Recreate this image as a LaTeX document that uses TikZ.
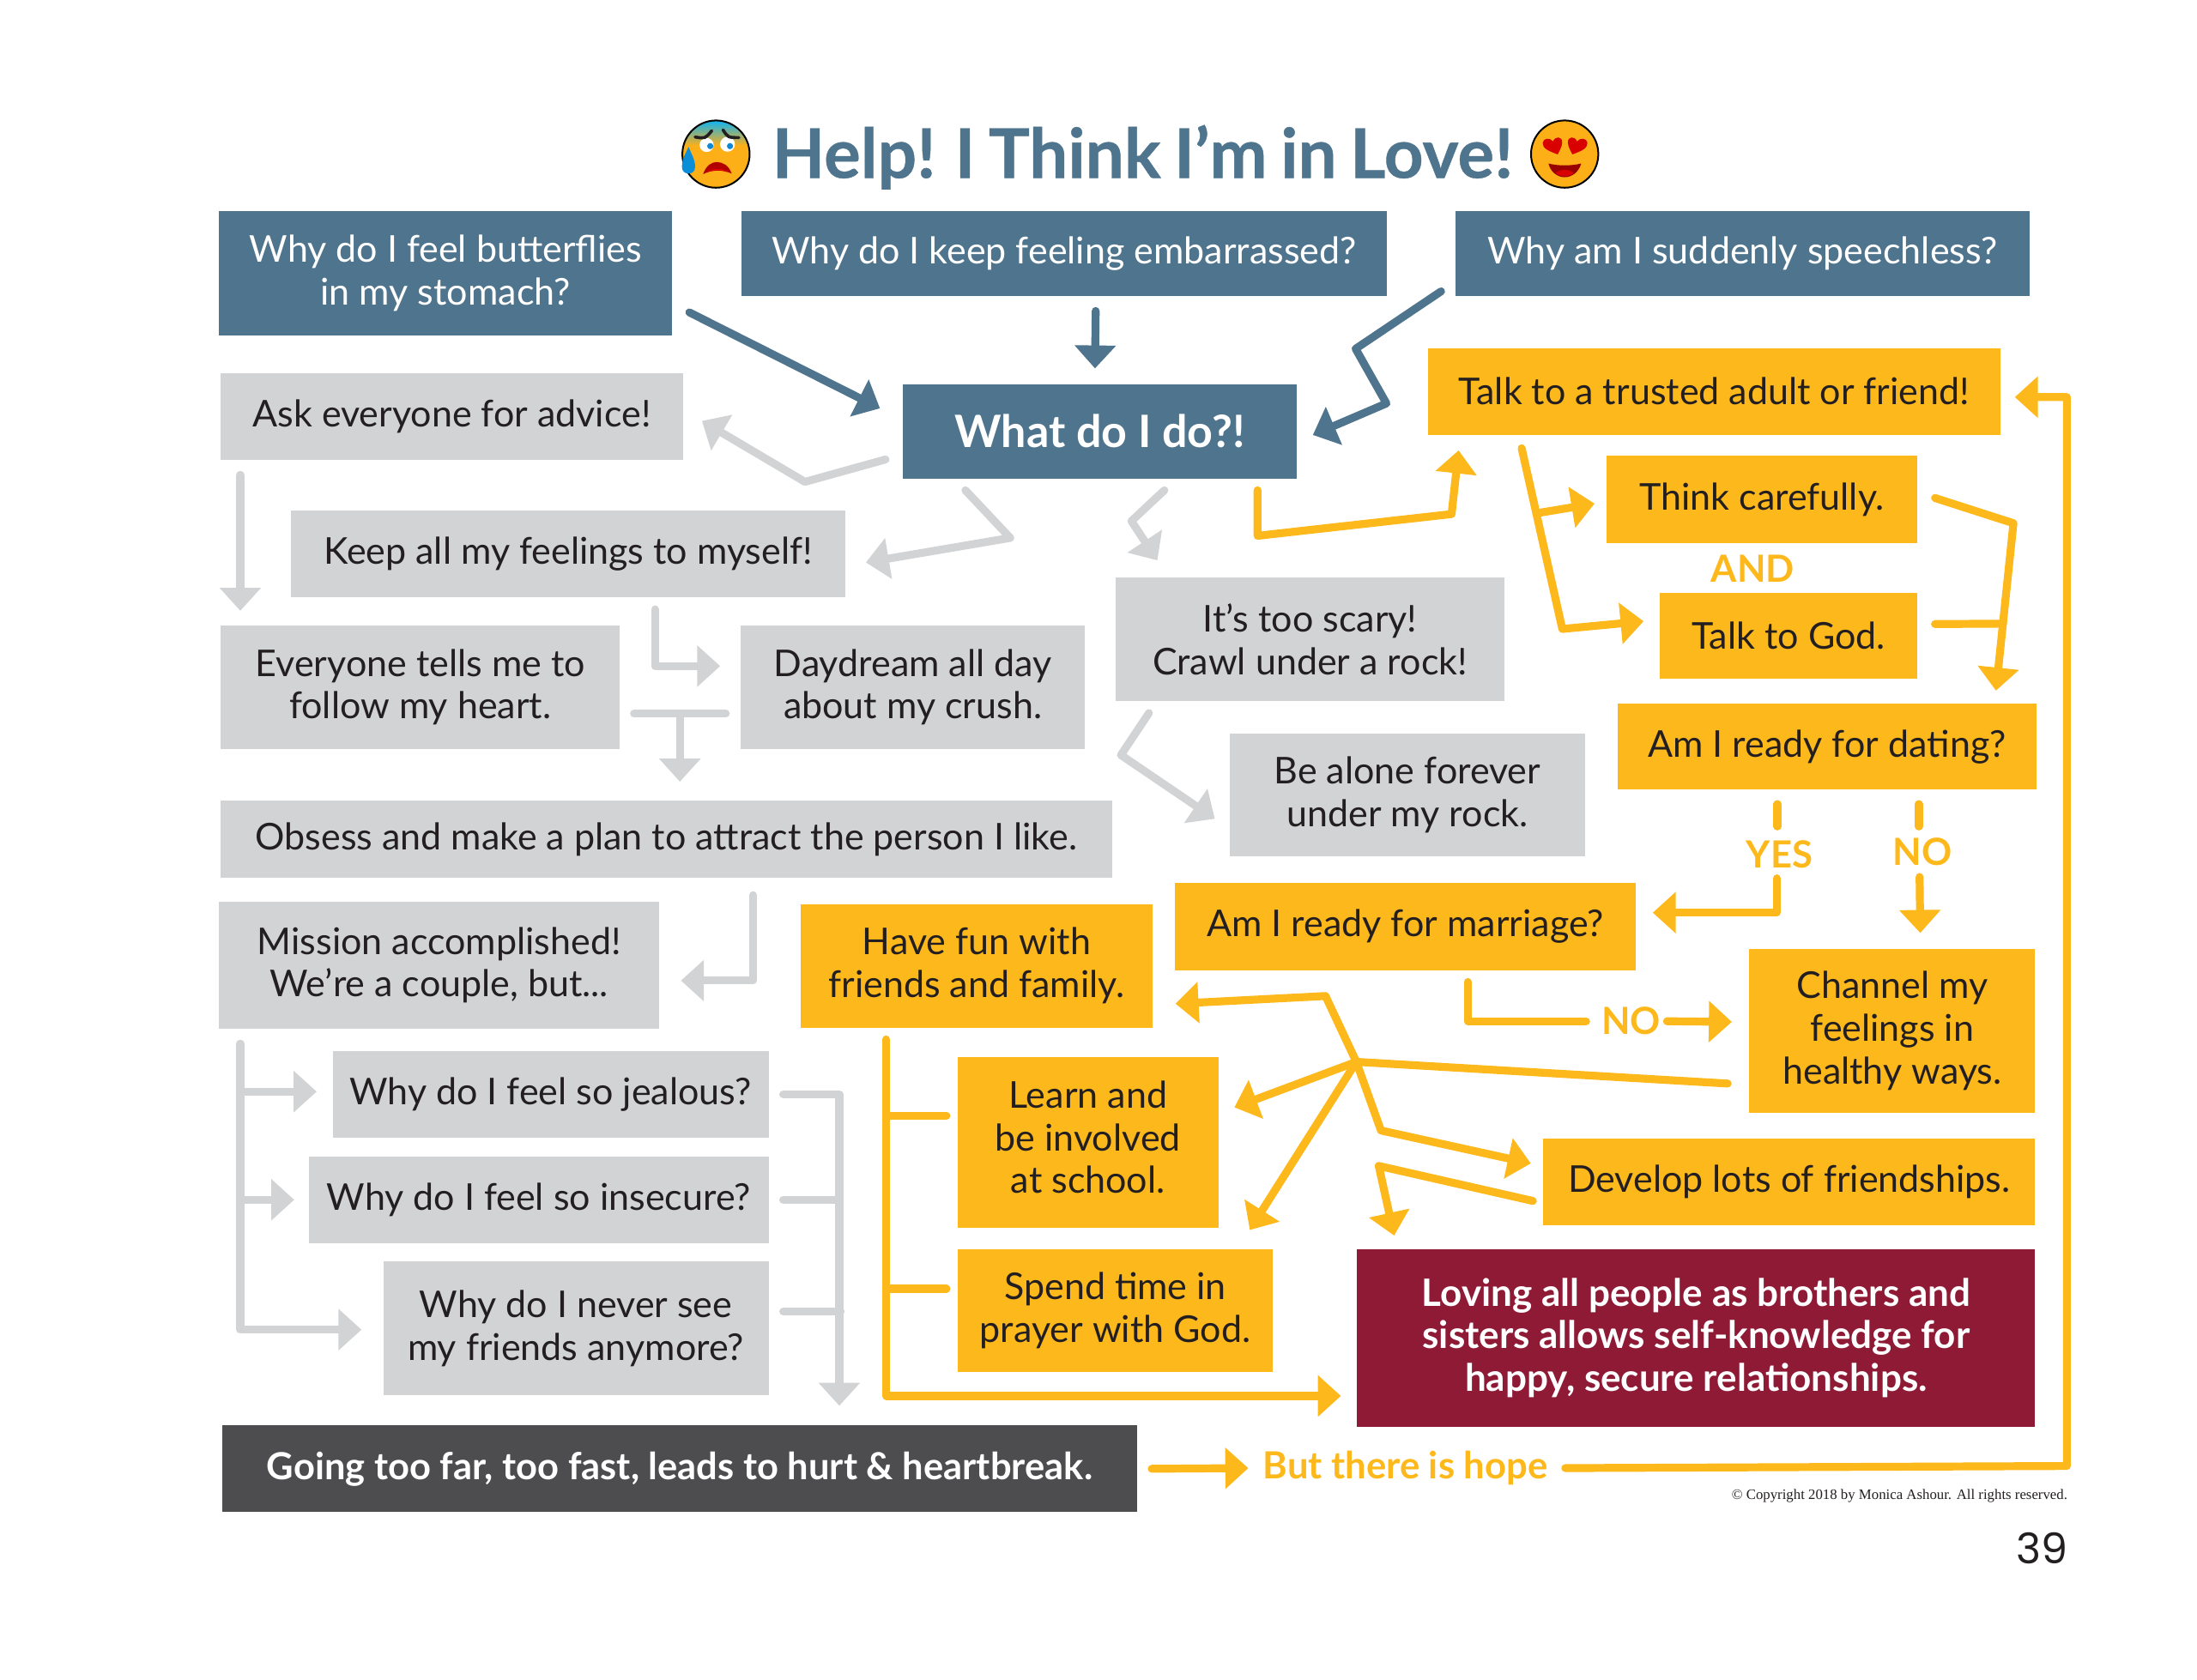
\documentclass[tikz,border=0pt]{standalone}
\usepackage{fontspec}
\setmainfont{Lato}
\newfontfamily\titlefont[BoldFeatures={FakeBold=0.5},WordSpace=0.8]{Lato}
\newfontfamily\numfont{Poppins}
\newfontfamily\rightsfont{Liberation Serif}
\usepackage{xcolor}
\usepackage{tikz}
\usetikzlibrary{positioning,arrows.meta,calc}
\definecolor{nblue}{HTML}{4F748D}
\definecolor{ngrey}{HTML}{D1D3D4}
\definecolor{ndark}{HTML}{4D4D4F}
\definecolor{nyellow}{HTML}{FDB81C}
\definecolor{ncrimson}{HTML}{8F1A36}
\definecolor{nink}{HTML}{231F20}
\def\un{0.40816pt}
\begin{document}
\begin{tikzpicture}[x=0.40816pt, y=-0.40816pt, >={Triangle[length=6.7pt,width=11.7pt]},
   sz/.style 2 args={minimum width=#1*\un, minimum height=#2*\un},
   b/.style={inner sep=0pt, align=center, anchor=north west, text=nink, font=\fontsize{10.75}{12.45}\selectfont},
   bblue/.style={b, fill=nblue, text=white},
   bgrey/.style={b, fill=ngrey},
   byel/.style={b, fill=nyellow},
   tag/.style={inner sep=0pt, text=nyellow, font=\fontsize{10.9}{12.45}\selectfont\bfseries},
   cblue/.style={draw=nblue, line width=2.3pt, line cap=round, line join=round},
   cgrey/.style={draw=ngrey, line width=2.3pt, line cap=round, line join=round},
   cyel/.style={draw=nyellow, line width=2.3pt, line cap=round, line join=round},
   pics/fearface/.style={code={
     \begin{scope}
       \clip (0,0) circle (24);
       \fill[nyellow!85!orange] (-24,-24) rectangle (24,24);
       \fill[top color=cyan!70!blue, bottom color=nyellow!85!orange] (-24,-25) rectangle (24,-6);
     \end{scope}
     \draw[black, line width=0.5pt] (0,0) circle (24);
     \fill[white] (-6.7,-6.5) circle (5) (8.2,-7) circle (5.3);
     \fill[cyan!70!blue] (-4.1,-5.7) circle (2.2) (10,-5.7) circle (2.2);
     \draw[nink, line width=0.9pt, line cap=round] (-14.9,-12.2) .. controls (-7.7,-11) .. (-3,-16.7);
     \draw[nink, line width=0.9pt, line cap=round] (5,-17.3) .. controls (8.6,-11.8) .. (16.3,-11.8);
     \fill[red!70!black] (-9.2,14.3) .. controls (-7,8) and (-3,5.7) .. (0.4,5.7) .. controls (5,5.7) and (9,8) .. (11.2,13.9) .. controls (5,11) and (-3,11) .. cycle;
     \fill[red!90!black] (-6.5,13) .. controls (-4,10) and (4,9.5) .. (8,12.8) .. controls (3,11) and (-2,11) .. cycle;
     \fill[cyan!75!blue] (-19.6,-5.1) .. controls (-22,0) and (-24.3,4) .. (-24.3,9.2) .. controls (-24.3,15.5) and (-14.9,15.5) .. (-14.9,9.2) .. controls (-14.9,4) and (-17.5,0) .. cycle;
   }},
   pics/loveface/.style={code={
     \fill[nyellow!85!orange] (0,0) circle (24);
     \draw[black, line width=0.5pt] (0,0) circle (24);
     \fill[red!85!black] (-5,0.2) .. controls (-11,-2) and (-16,-4) .. (-15.7,-8) .. controls (-15.4,-11.5) and (-10.5,-12) .. (-8.3,-9) .. controls (-7,-13) and (-1.5,-13) .. (-1.8,-8) .. controls (-2,-5) and (-4,-2) .. cycle;
     \fill[red!85!black, xscale=-1, xshift=-0.2pt] (-5,0.2) .. controls (-11,-2) and (-16,-4) .. (-15.7,-8) .. controls (-15.4,-11.5) and (-10.5,-12) .. (-8.3,-9) .. controls (-7,-13) and (-1.5,-13) .. (-1.8,-8) .. controls (-2,-5) and (-4,-2) .. cycle;
     \fill[red!60!black] (-11.6,6.7) .. controls (-5,8.5) and (5,8.5) .. (11.8,6.7) .. controls (10,13) and (5,16.5) .. (0,16.5) .. controls (-5,16.5) and (-10,13) .. cycle;
     \fill[red!85!black] (-6.5,13.5) .. controls (-3,10.5) and (3,10.5) .. (6.5,13.5) .. controls (4,16.5) and (-4,16.5) .. cycle;
   }}]
  \useasboundingbox (0,0) rectangle (1568,1198.7);
  \node[inner sep=0pt, anchor=base, text=nblue, font=\fontsize{20}{24}\titlefont\bfseries] (title) at (815.5,127) {Help! I Think I’m in Love!};
  \pic at (511,110) {fearface};
  \pic at (1116.7,110) {loveface};

  \node[bblue, sz={323}{89}] (stomach) at (156,150) {Why do I feel butterflies\\in my stomach?};
  \node[bblue, sz={461}{61}, right=19.8pt of stomach.north east, anchor=north west] (embar) {Why do I keep feeling embarrassed?};
  \node[bblue, sz={409.5}{61}, right=19.6pt of embar.north east, anchor=north west] (speech) {Why am I suddenly speechless?};
  \node[bblue, sz={281}{67}, font=\fontsize{13}{15}\selectfont\bfseries] (what) at (644,274) {What do I do?!};

  \node[bgrey, sz={330}{62}] (ask) at (157,266) {Ask everyone for advice!};
  \node[bgrey, sz={396}{62}] (keep) at (207,364) {Keep all my feelings to myself!};
  \node[bgrey, sz={285}{88}] (everyone) at (157,446) {Everyone tells me to\\follow my heart.};
  \node[bgrey, sz={246}{88}, right=34.7pt of everyone.north east, anchor=north west] (daydream) {Daydream all day\\about my crush.};
  \node[bgrey, sz={277}{88}] (scary) at (796,412) {It’s too scary!\\Crawl under a rock!};
  \node[bgrey, sz={254}{88}] (alone) at (877,523) {Be alone forever\\under my rock.};
  \node[bgrey, sz={636}{55}] (obsess) at (157,571) {Obsess and make a plan to attract the person I like.};
  \node[bgrey, sz={314}{91}] (mission) at (156,643) {Mission accomplished!\\We’re a couple, but...};
  \node[bgrey, sz={311}{61.5}] (jealous) at (237,750) {Why do I feel so jealous?};
  \node[bgrey, sz={328}{61.5}, below=5.2pt of jealous.south east, anchor=north east] (insecure) {Why do I feel so insecure?};
  \node[bgrey, sz={275}{96}, below=4.9pt of insecure.south east, anchor=north east] (never) {Why do I never see\\my friends anymore?};
  \node[b, fill=ndark, text=white, sz={653}{62}, font=\fontsize{10.87}{12.45}\selectfont\bfseries] (dark) at (158,1017) {Going too far, too fast, leads to hurt \& heartbreak.};

  \node[byel, sz={408}{62}] (talk) at (1019,248) {Talk to a trusted adult or friend!};
  \node[byel, sz={222}{62}] (think) at (1146,325) {Think carefully.};
  \node[byel, sz={184}{61}] (god) at (1184,423) {Talk to God.};
  \node[byel, sz={299}{61}] (ready) at (1154,502) {Am I ready for dating?};
  \node[byel, sz={329}{62}] (marriage) at (838,630) {Am I ready for marriage?};
  \node[byel, sz={251}{88}] (fun) at (571,645) {Have fun with\\friends and family.};
  \node[byel, sz={204}{117}] (channel) at (1248,677) {Channel my\\feelings in\\healthy ways.};
  \node[byel, sz={186}{122}] (learn) at (683,754) {Learn and\\be involved\\at school.\par\vspace{3pt}};
  \node[byel, sz={225}{88}] (spend) at (683,891) {Spend time in\\prayer with God.};
  \node[byel, sz={351}{62}] (develop) at (1101,812) {Develop lots of friendships.};
  \node[b, fill=ncrimson, text=white, sz={484}{127}, font=\fontsize{11}{12.45}\selectfont\bfseries] (loving) at (968,891) {Loving all people as brothers and\\sisters allows self-knowledge for\\happy, secure relationships.};

  \node[tag] (and) at (1251,406) {AND};
  \node[tag] (yes) at (1270,610) {YES};
  \node[tag] (nodate) at (1372,608) {NO};
  \node[tag] (nowed) at (1164,729) {NO};
  \node[tag] (hope) at (1003,1048) {But there is hope};
  \node[inner sep=0pt, anchor=east, text=nink, font=\fontsize{4.2}{5}\rightsfont] (rights) at (1476,1068) {© Copyright 2018 by Monica Ashour. All rights reserved.};
  \node[inner sep=0pt, anchor=east, text=nink, font=\fontsize{12.3}{15}\numfont] (page) at (1476,1105) {39};

  \draw[cblue,->] ($(stomach.south east)+(12,-17)$) -- ($(what.west)+(-16,-16.5)$);
  \draw[cblue,->] ($(embar.south)+(22.5,10)$) -- ($(what.north)+(-3.5,-11)$);
  \draw[cblue,->] ($(speech.south west)+(-10,-4)$) -- ++(-61,41) -- ++(22,39) -- ($(what.east)+(11,2.5)$);

  \draw[cgrey,->] ($(what.south west)+(-12,-14)$) -- ++(-57.5,16) -- ($(ask.east)+(13,3)$);
  \draw[cgrey,->] ($(what.south west)+(45,8)$) -- ++(32,34) -- ($(keep.east)+(14,6)$);
  \draw[cgrey,->] ($(what.south)+(46,8)$) -- ++(-23.5,22) -- ($(scary.north)+(-109,-12)$);
  \draw[cgrey,->] ($(ask.south west)+(14.5,10)$) -- ($(everyone.north west)+(14.5,-10)$);
  \draw[cgrey,->] ($(keep.south)+(62,8)$) |- ($(daydream.west)+(-14,-15)$);
  \draw[cgrey] ($(everyone.east)+(9.5,19)$) -- coordinate (tee) ($(daydream.west)+(-10,19)$);
  \draw[cgrey,->] (tee) -- ($(tee |- obsess.north)+(0,-13)$);
  \draw[cgrey,->] ($(scary.south west)+(24,8)$) -- ++(-20,30) -- ($(alone.west)+(-10,17)$);
  \draw[cgrey,->] ($(obsess.south)+(62,12)$) |- ($(mission.east)+(15,11)$);

  \coordinate (mtrunk) at ($(mission.south west)+(15.5,10)$);
  \coordinate (jtip) at ($(jealous.west)+(-11,-2)$);
  \draw[cgrey,->] (mtrunk) |- ($(never.west)+(-15,1)$);
  \draw[cgrey,->] (mtrunk |- jtip) -- (jtip);
  \draw[cgrey,->] (mtrunk |- insecure.west) -- ($(insecure.west)+(-10,0)$);
  \coordinate (gtip) at ($(dark.north west)+(441,-13.5)$);
  \draw[cgrey,->] ($(jealous.east)+(10,0)$) -| (gtip);
  \draw[cgrey] ($(insecure.east)+(10,0)$) -- (gtip |- insecure.east);
  \draw[cgrey] ($(never.east)+(10,-12)$) -- ++(41,0);

  \draw[cyel,->] ($(what.south east)+(-28.5,8)$) -- ++(0,32.5) -- ++(138.5,-15.5) -- ($(talk.south west)+(22,10.5)$);
  \draw[cyel,->] ($(talk.south west)+(67,9)$) -- ++(29,129) coordinate[pos=.36] (tb) -- ($(god.west)+(-11,-10.5)$);
  \draw[cyel,->] (tb) -- ($(think.west)+(-8,3)$);
  \draw[cyel,->] ($(think.east)+(12,-1)$) -- ++(56,18) -- ($(ready.north)+(120.5,-9)$) coordinate[pos=.6] (rb);
  \draw[cyel] ($(god.east)+(12,-8.5)$) -- (rb);
  \draw[cyel] ($(ready.south)+(-35.5,10)$) -- ++(0,16);
  \draw[cyel] ($(ready.south)+(65.5,10)$) -- ++(0,16);
  \draw[cyel,->] ($(yes)+(-2,17)$) |- ($(marriage.east)+(11.6,-10)$);
  \draw[cyel,->] ($(nodate)+(-2,18)$) -- ($(channel.north)+(20,-11)$);
  \draw[cyel] ($(marriage.south)+(44.5,8)$) |- ($(nowed)+(-32,0)$);
  \draw[cyel,->] ($(nowed)+(25.7,0)$) -- ($(channel.west)+(-12,-6.5)$);

  \coordinate (hub) at (968,758);
  \draw[cyel] ($(channel.south west)+(-15,-21.5)$) -- (hub);
  \draw[cyel,->] (hub) -- ++(-22,-47) -- ($(fun.east)+(16,27)$);
  \draw[cyel,->] (hub) -- ($(learn.east)+(11,-25)$);
  \draw[cyel,->] (hub) -- ($(spend.north east)+(-17,-13)$);
  \draw[cyel,->] (hub) -- ++(17.6,49) -- ($(develop.west)+(-8.5,-13)$);
  \draw[cyel,->] ($(develop.west)+(-7,13.8)$) -- ++(-110,-25) -- ($(loving.north west)+(27,-9)$);

  \coordinate (ytrunk) at ($(fun.south west)+(61.5,8)$);
  \coordinate (lb) at ($(learn.west)+(-7.5,-19)$);
  \coordinate (sb) at ($(spend.west)+(-7.5,-15.5)$);
  \draw[cyel,->] (ytrunk) |- ($(loving.west)+(-11,41.5)$);
  \draw[cyel] (ytrunk |- lb) -- (lb);
  \draw[cyel] (ytrunk |- sb) -- (sb);
  \draw[cyel,->] ($(dark.east)+(10,0)$) -- ($(hope.west)+(-10,0)$);
  \draw[cyel,->] ($(hope.east)+(12,0)$) -- ++(358,-1.5) |- ($(talk.east)+(10,4)$);
\end{tikzpicture}
\end{document}
